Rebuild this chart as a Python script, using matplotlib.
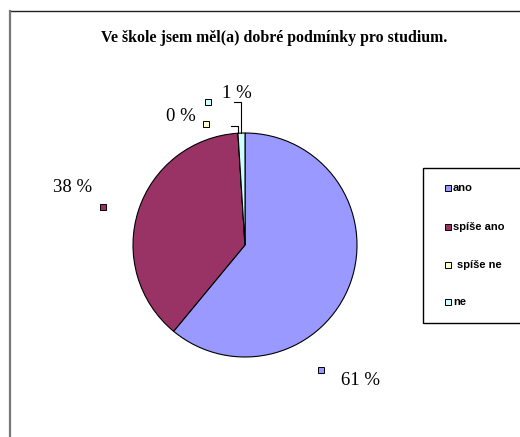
import matplotlib
matplotlib.use("Agg")
import matplotlib.pyplot as plt
import numpy as np

# Data
categories = ["ano", "spíše ano", "spíše ne", "ne"]
percent = [61, 38, 0, 1]
colors = ["#9999FF", "#993366", "#FFFFCC", "#CCFFFF"]
title = "Ve škole jsem měl(a) dobré podmínky pro studium."

W, H = 520, 437
fig = plt.figure(figsize=(W / 100, H / 100), dpi=100)

# overlay in pixel coordinates (y down) for frame, title and legend
bg = fig.add_axes([0, 0, 1, 1])
bg.set_xlim(0, W)
bg.set_ylim(H, 0)
bg.axis("off")
bg.plot([10, W], [11, 11], color="#222222", lw=1.0)
bg.plot([10, 10], [11, H], color="#777777", lw=1.6)
bg.text(274, 38, title, ha="center", va="center", fontsize=11.4,
        fontweight="bold", family="Liberation Serif")

# pie axes: centre (245, 245) px, radius 112 px
cx, cy, r = 245, 245, 112
ax = fig.add_axes([(cx - r) / W, (H - cy - r) / H, 2 * r / W, 2 * r / H])
wedges, _ = ax.pie(percent, colors=colors, startangle=90, counterclock=False,
                   wedgeprops=dict(edgecolor="black", linewidth=0.8))
ax.set_xlim(-1, 1)
ax.set_ylim(-1, 1)
ax.set_aspect("auto")

# label placement (pie data units)
label_xy = [(0.857, -1.214), (-1.714, 0.509), (-0.705, 1.143), (-0.205, 1.357)]
marker_xy = [(0.679, -1.116), (-1.268, 0.339), (-0.348, 1.080), (-0.330, 1.277)]
leader_y = {2: 1.0625, 3: 1.277}

for i, (p, c) in enumerate(zip(percent, colors)):
    lx, ly = label_xy[i]
    ax.text(lx, ly, f"{p} %", ha="left", va="center", fontsize=13.5,
            family="Liberation Serif", clip_on=False)
    mx, my = marker_xy[i]
    ax.plot([mx], [my], marker="s", ms=4.5, mfc=c, mec="black", mew=0.7,
            clip_on=False)
    if i in leader_y:
        w = wedges[i]
        ang = np.deg2rad((w.theta1 + w.theta2) / 2)
        ex, ey = np.cos(ang), np.sin(ang)
        yl = leader_y[i]
        ax.plot([ex - 0.065, ex, ex], [yl, yl, ey], color="black", lw=0.8,
                clip_on=False)

# legend box (cut at right edge like the original)
bg.add_patch(plt.Rectangle((423, 168), 110, 155, fill=False, edgecolor="black",
                           lw=1.0, clip_on=False))
rows_y = [188, 227, 265, 302]
for name, c, y in zip(categories, colors, rows_y):
    bg.plot([448], [y], marker="s", ms=4.5, mfc=c, mec="black", mew=0.7)
    bg.text(453 + (4 if name == "spíše ne" else 0), y, name, ha="left",
            va="center", fontsize=8, fontweight="bold", family="Liberation Sans")

fig.savefig("out.png", dpi=100)
